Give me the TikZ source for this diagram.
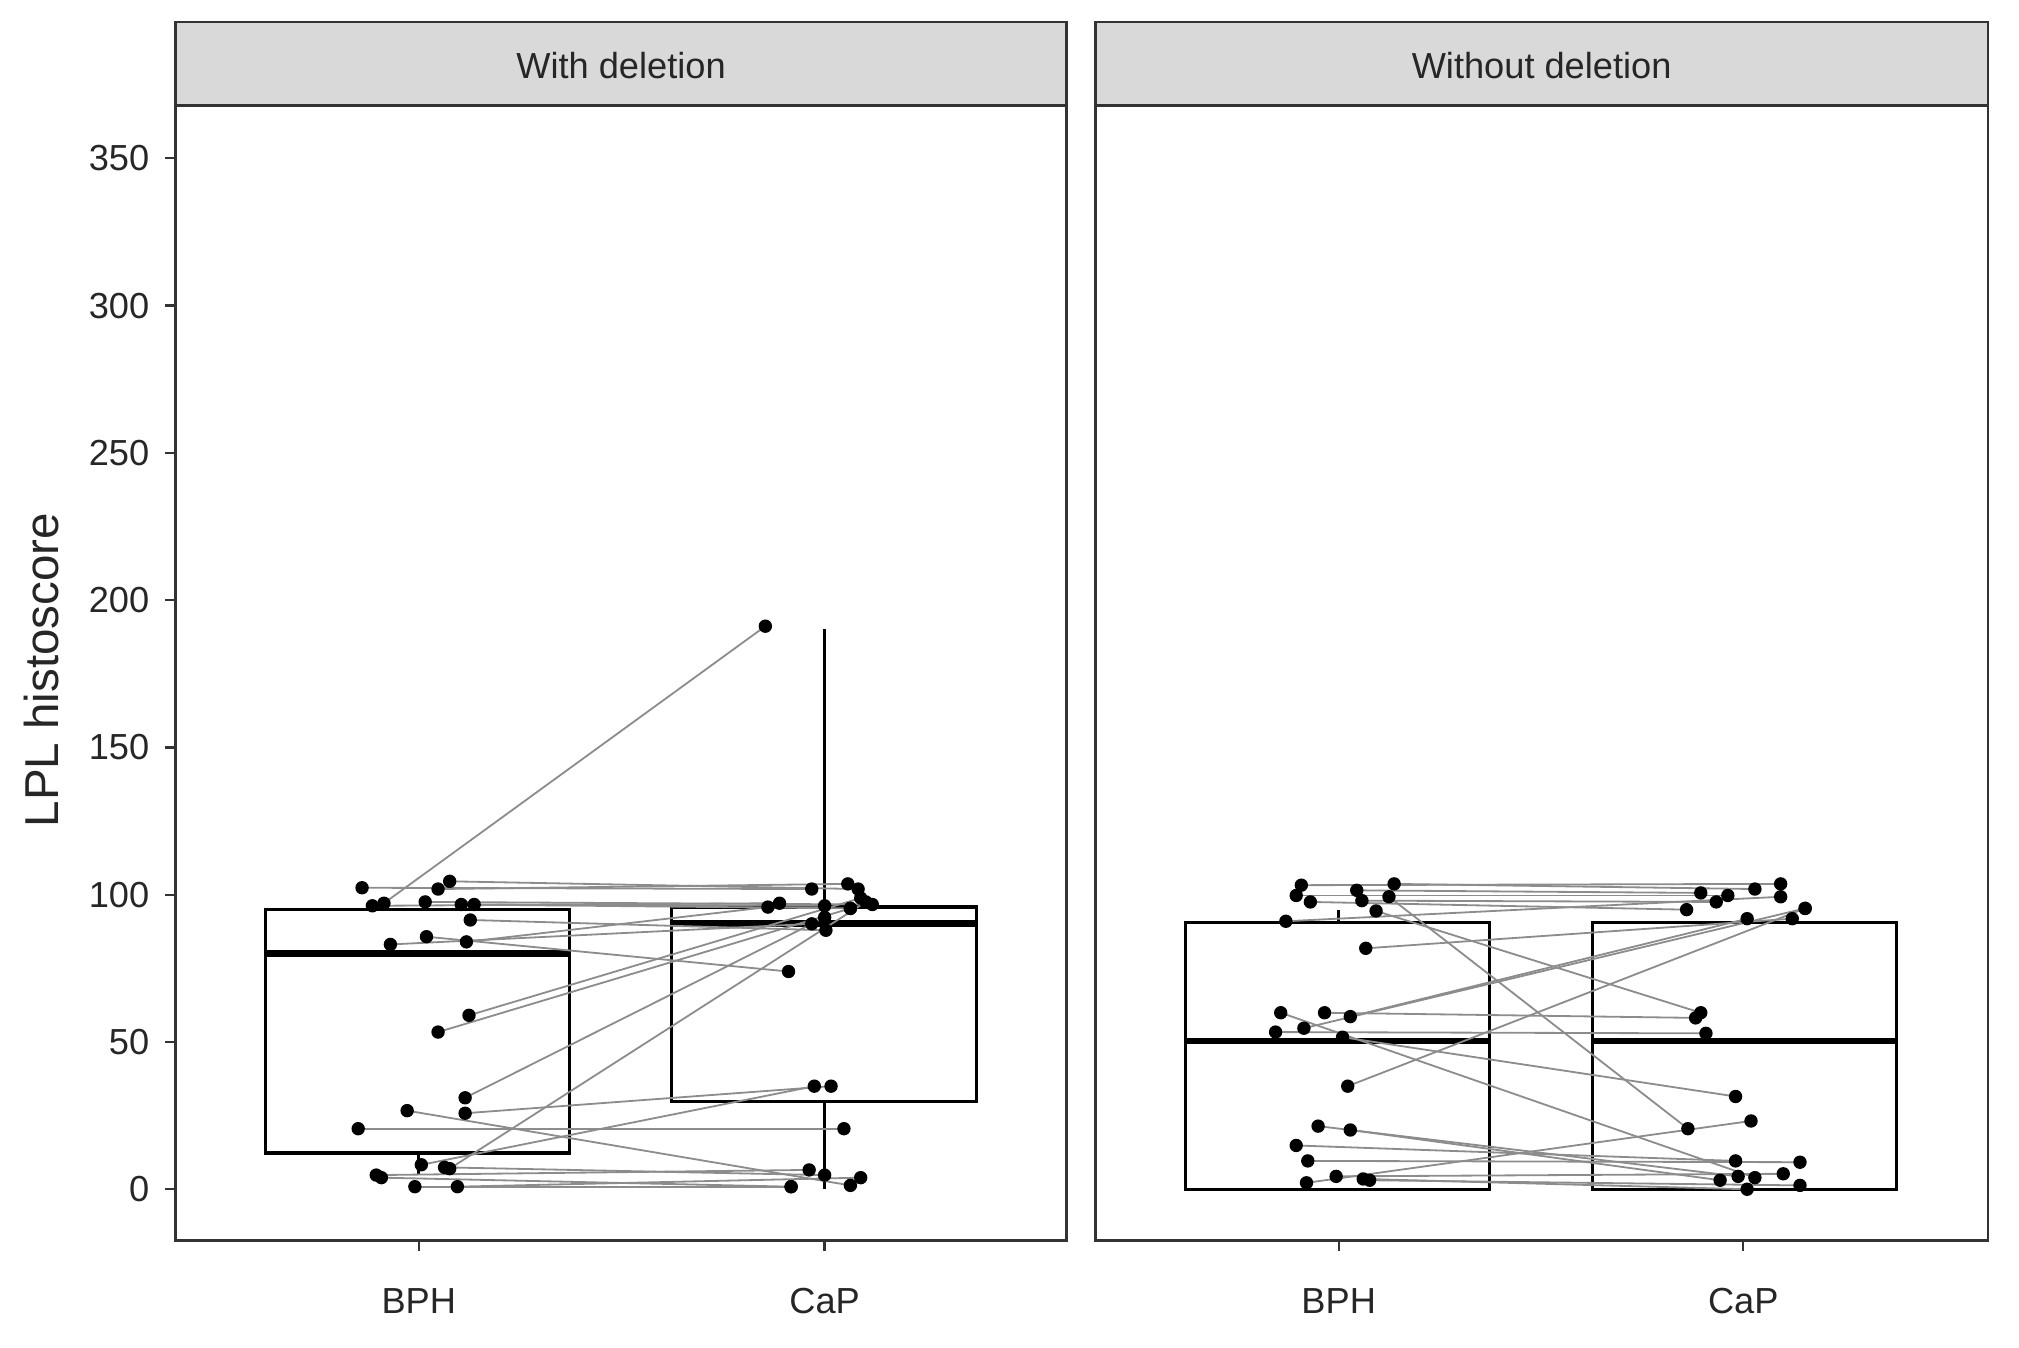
\documentclass[tikz,border=0pt]{standalone}
\usepackage{fontspec}
\setmainfont{Liberation Sans}
\begin{document}
\begin{tikzpicture}[x=0.02cm,y=-0.02cm,
  pane/.style={draw=black!80,line width=1.2pt},
  strip/.style={draw=black!80,fill=black!15,line width=1.2pt},
  box/.style={draw=black,line width=1.5pt},
  med/.style={draw=black,line width=3pt},
  whisk/.style={draw=black,line width=1.5pt},
  pair/.style={draw=black!45,line width=0.8pt},
  pt/.style={fill=black},
  tick/.style={draw=black!80,line width=1pt},
  lab/.style={font=\fontsize{16}{18}\selectfont,text=black!85}]
\useasboundingbox (0,0) rectangle (1567,1046.2);
% panels
\foreach \a/\b/\t in {136/828/With deletion,850/1543/Without deletion}{
  \draw[strip] (\a,17) rectangle (\b,82);
  \node[lab] at ({(\a+\b)/2},51) {\t};
  \draw[pane] (\a,82) rectangle (\b,963);
}
% y axis
\foreach \v in {0,50,...,350}{
  \draw[tick] (128,{923-2.286*\v}) -- (136,{923-2.286*\v});
  \node[lab,anchor=east] at (122,{923-2.286*\v}) {\v};
}
\node[lab,rotate=90,font=\fontsize{21}{24}\selectfont] at (32,520) {LPL histoscore};
% x axis
\foreach \x/\t in {325/BPH,640/CaP,1039/BPH,1353/CaP}{
  \draw[tick] (\x,963) -- (\x,971);
  \node[lab] at (\x,1010) {\t};
}
% left boxes
\draw[whisk] (325,895) -- (325,912);
\draw[box] (206,706) rectangle (442,895);
\draw[med] (206,740) -- (442,740);
\draw[whisk] (640,704) -- (640,488);
\draw[whisk] (640,855) -- (640,923);
\draw[box] (521,704) rectangle (758,855);
\draw[med] (521,717) -- (758,717);
% right boxes
\draw[whisk] (1039,716) -- (1039,706);
\draw[box] (920,716) rectangle (1156,923);
\draw[med] (920,808) -- (1156,808);
\draw[box] (1236,716) rectangle (1472,923);
\draw[med] (1236,808) -- (1472,808);
% left pairs
\foreach \a/\b/\c/\d in {298/701/594/486, 281/689/630/690, 349/684/666/690, 340/690/658/686,
  330/700/677/702, 358/702/660/705, 368/702/640/703, 289/703/605/701, 365/714/641/722,
  331/727/612/754, 362/731/596/704, 303/733/630/717, 364/788/668/697, 340/801/660/705,
  361/852/640/712, 316/862/660/920, 361/864/645/843, 278/876/655/876, 327/904/632/843,
  292/912/628/908, 296/914/614/921, 345/906/640/912, 349/907/672/700, 322/921/614/921,
  355/921/668/914}{
  \draw[pair] (\a,\b) -- (\c,\d);
}
\foreach \a/\b/\c/\d in {298/701/594/486, 281/689/630/690, 349/684/666/690, 340/690/658/686,
  330/700/677/702, 358/702/660/705, 368/702/640/703, 289/703/605/701, 365/714/641/722,
  331/727/612/754, 362/731/596/704, 303/733/630/717, 364/788/668/697, 340/801/660/705,
  361/852/640/712, 316/862/660/920, 361/864/645/843, 278/876/655/876, 327/904/632/843,
  292/912/628/908, 296/914/614/921, 345/906/640/912, 349/907/672/700, 322/921/614/921,
  355/921/668/914}{
  \fill[pt] (\a,\b) circle (5.2); \fill[pt] (\c,\d) circle (5.2);
}
% right pairs
\foreach \a/\b/\c/\d in {1010/687/1382/686, 1082/686/1362/690, 1006/695/1341/695, 1053/691/1320/693,
  1057/699/1332/700, 1078/696/1310/876, 1017/700/1309/706, 1068/707/1320/786, 998/715/1382/696,
  1060/736/1391/713, 1028/786/1316/790, 1048/789/1356/713, 1012/798/1401/705, 1042/805/1347/851,
  1046/843/1401/705, 990/801/1324/802, 1023/874/1349/913, 1048/877/1335/916, 1006/889/1347/901,
  1015/901/1397/902, 1014/918/1359/870, 1037/913/1384/911, 1058/915/1356/923, 1063/916/1397/920,
  994/786/1362/914}{
  \draw[pair] (\a,\b) -- (\c,\d);
}
\foreach \a/\b/\c/\d in {1010/687/1382/686, 1082/686/1362/690, 1006/695/1341/695, 1053/691/1320/693,
  1057/699/1332/700, 1078/696/1310/876, 1017/700/1309/706, 1068/707/1320/786, 998/715/1382/696,
  1060/736/1391/713, 1028/786/1316/790, 1048/789/1356/713, 1012/798/1401/705, 1042/805/1347/851,
  1046/843/1401/705, 990/801/1324/802, 1023/874/1349/913, 1048/877/1335/916, 1006/889/1347/901,
  1015/901/1397/902, 1014/918/1359/870, 1037/913/1384/911, 1058/915/1356/923, 1063/916/1397/920,
  994/786/1362/914}{
  \fill[pt] (\a,\b) circle (5.2); \fill[pt] (\c,\d) circle (5.2);
}
\end{tikzpicture}
\end{document}
